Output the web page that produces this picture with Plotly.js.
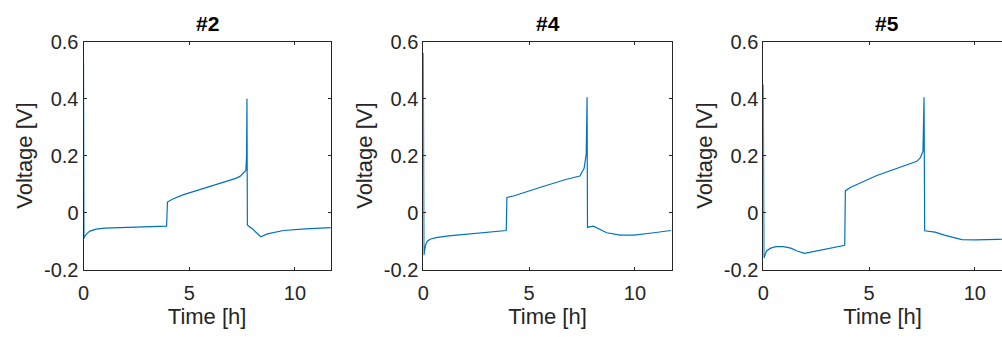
<!DOCTYPE html>
<html>
<head>
<meta charset="utf-8">
<script src="https://cdn.plot.ly/plotly-3.0.1.min.js"></script>
<style>html,body{margin:0;padding:0;background:#fff;}#chart{width:1002px;height:337px;}</style>
</head>
<body>
<div id="chart"></div>
<script>
// Panel titles
const panelTitles = ["#2", "#4", "#5"];
const xTickVals = [0, 5, 10];
const yTickVals = [-0.2, 0, 0.2, 0.4, 0.6];
const yTickText = ['-0.2', '0', '0.2', '0.4', '0.6'];

// #2 series
const t2 = [0, 0.005, 0.02, 0.05, 0.15, 0.3, 0.6, 1.0, 2.0, 3.0, 3.92, 3.93, 3.97, 4.2, 4.7, 5.5, 6.2, 6.8, 7.2, 7.4, 7.6, 7.68, 7.71, 7.73, 7.75, 7.8, 8.0, 8.38, 8.7, 9.45, 10.5, 11.7];
const v2 = [0.53, 0.2, -0.09, -0.085, -0.075, -0.065, -0.058, -0.055, -0.052, -0.05, -0.048, -0.048, 0.037, 0.047, 0.062, 0.08, 0.095, 0.11, 0.12, 0.127, 0.14, 0.148, 0.2, 0.4, -0.043, -0.047, -0.058, -0.085, -0.075, -0.063, -0.057, -0.053];

// #4 series
const t4 = [0, 0.005, 0.03, 0.1, 0.2, 0.35, 0.6, 1.2, 2.5, 3.92, 3.95, 4.27, 5.5, 6.77, 7.4, 7.6, 7.7, 7.74, 7.76, 7.8, 8.04, 8.67, 9.3, 9.95, 10.9, 11.7];
const v4 = [0.56, 0.2, -0.15, -0.115, -0.1, -0.093, -0.088, -0.082, -0.074, -0.063, 0.053, 0.058, 0.088, 0.117, 0.128, 0.155, 0.205, 0.405, -0.052, -0.051, -0.048, -0.071, -0.079, -0.079, -0.071, -0.063];

// #5 series
const t5 = [0, 0.005, 0.03, 0.15, 0.35, 0.6, 0.95, 1.3, 1.6, 1.95, 2.5, 3.2, 3.85, 3.88, 4.11, 5.37, 6.63, 7.26, 7.42, 7.55, 7.6, 7.63, 8.12, 8.6, 9.39, 10.02, 11.1, 11.7];
const v5 = [0.45, 0.1, -0.16, -0.135, -0.125, -0.12, -0.12, -0.125, -0.135, -0.143, -0.135, -0.125, -0.115, 0.076, 0.088, 0.13, 0.165, 0.18, 0.192, 0.215, 0.405, -0.064, -0.069, -0.08, -0.095, -0.096, -0.094, -0.093];

const seriesT = [t2, t4, t5];
const seriesV = [v2, v4, v5];

const W = 1002, H = 337;
const xDomains = [[83.5 / W, 330.7 / W], [423.3 / W, 671.7 / W], [763.3 / W, 1.0]];
const xRanges = [[0, 11.69], [0, 11.74], [0, (W - 763.3) / 21.15]];
const yDomain = [1 - 269.5 / H, 1 - 41.7 / H];

const lineColor = '#0072BD';
const axisColor = '#262626';
const fontFam = '"Liberation Sans", Arial, Helvetica, sans-serif';

const data = [];
const layout = {
  width: W, height: H,
  margin: {l: 0, r: 0, t: 0, b: 0},
  paper_bgcolor: '#ffffff', plot_bgcolor: '#ffffff',
  showlegend: false,
  font: {family: fontFam, size: 20, color: axisColor},
  annotations: []
};

for (let i = 0; i < 3; i++) {
  const sfx = i === 0 ? '' : String(i + 1);
  data.push({
    type: 'scatter', mode: 'lines',
    x: seriesT[i], y: seriesV[i],
    xaxis: 'x' + sfx, yaxis: 'y' + sfx,
    line: {color: lineColor, width: 1.2},
    hoverinfo: 'skip'
  });
  layout['xaxis' + sfx] = {
    domain: xDomains[i], range: xRanges[i], anchor: 'y' + sfx,
    tickvals: xTickVals, ticks: 'inside', ticklen: 3, tickcolor: axisColor,
    showline: true, linecolor: axisColor, linewidth: 1, mirror: 'ticks',
    showgrid: false, zeroline: false, ticklabelstandoff: 5,
    tickfont: {family: fontFam, size: 20, color: axisColor},
    title: {text: 'Time [h]', font: {family: fontFam, size: 22, color: axisColor}, standoff: 6}
  };
  layout['yaxis' + sfx] = {
    domain: yDomain, range: [-0.2, 0.6], anchor: 'x' + sfx,
    tickvals: yTickVals, ticktext: yTickText,
    ticks: 'inside', ticklen: 3, tickcolor: axisColor,
    showline: true, linecolor: axisColor, linewidth: 1, mirror: i === 2 ? false : 'ticks',
    showgrid: false, zeroline: false,
    tickfont: {family: fontFam, size: 20, color: axisColor},
    title: {text: 'Voltage [V]', font: {family: fontFam, size: 22, color: axisColor}, standoff: 5}
  };
  layout.annotations.push({
    text: '<b>' + panelTitles[i] + '</b>',
    xref: 'paper', yref: 'paper',
    x: i === 2 ? (763.3 + 123.7) / W : (xDomains[i][0] + xDomains[i][1]) / 2,
    y: 1 - 23 / H, xanchor: 'center', yanchor: 'middle',
    showarrow: false, font: {family: fontFam, size: 21, color: '#000000'}
  });
}
Plotly.newPlot('chart', data, layout, {staticPlot: true, displayModeBar: false});
</script>
</body>
</html>
